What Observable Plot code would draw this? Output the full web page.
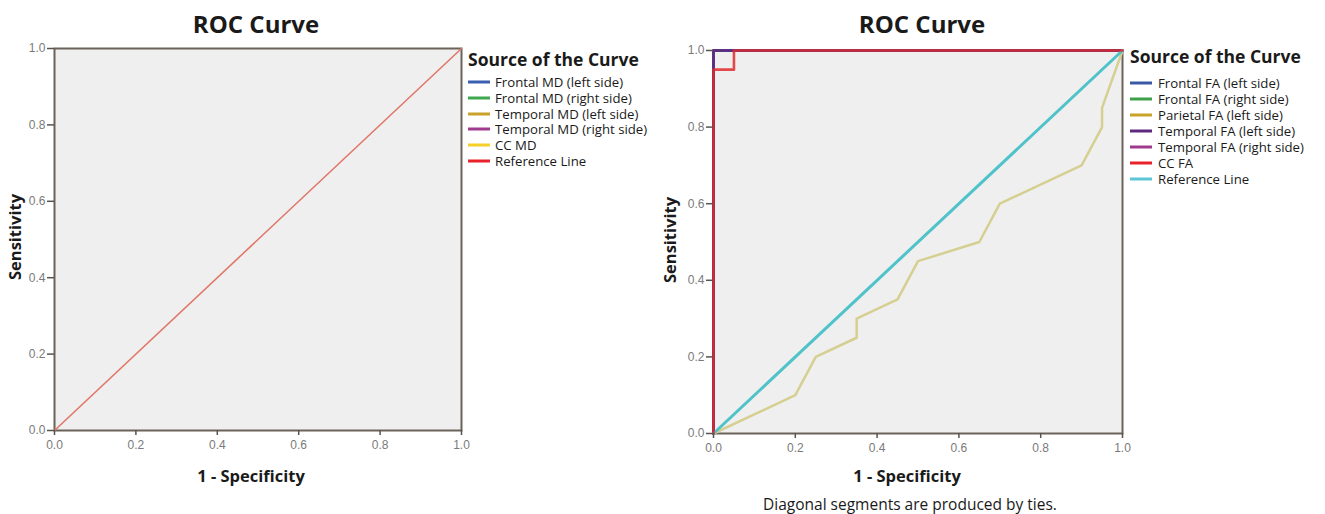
<!DOCTYPE html>
<html><head><meta charset="utf-8">
<script src="https://cdn.jsdelivr.net/npm/d3@7"></script>
<script src="https://cdn.jsdelivr.net/npm/@observablehq/plot@0.6"></script>
<style>
body{margin:0;background:#fff;}
#wrap{position:relative;width:1325px;height:514px;overflow:hidden;font-family:"Open Sans",sans-serif;color:#1a1a1a;}
.abs{position:absolute;white-space:nowrap;line-height:1;}
.title{font-weight:700;font-size:24px;transform:translate(-50%,-50%);}
.xlab{font-weight:700;font-size:16.5px;transform:translate(-50%,-50%);}
.ylab{font-weight:700;font-size:16.5px;transform:translate(-50%,-50%) rotate(-90deg);}
.legtitle{font-weight:700;font-size:17.5px;transform:translateY(-50%);}
.legitem{font-size:13.2px;line-height:13px;transform:translateY(-50%);}
.sw{position:absolute;height:3px;width:22px;transform:translateY(-50%);}
.cap{font-size:15.5px;transform:translate(-50%,-50%);}
</style></head><body><div id="wrap"></div>
<script>
// ---- data ----
const tickValues = [0, 0.2, 0.4, 0.6, 0.8, 1.0];
const tickLabels = ["0.0", "0.2", "0.4", "0.6", "0.8", "1.0"];

// Left chart (MD)
const leftSeries = ["Frontal MD (left side)", "Frontal MD (right side)", "Temporal MD (left side)", "Temporal MD (right side)", "CC MD", "Reference Line"];
const leftColors = ["#3a5fb0", "#3fa850", "#c9a22a", "#a03a8e", "#f6cf2a", "#e8222a"];
const leftRefX = [0, 1];
const leftRefY = [0, 1];

// Right chart (FA)
const rightSeries = ["Frontal FA (left side)", "Frontal FA (right side)", "Parietal FA (left side)", "Temporal FA (left side)", "Temporal FA (right side)", "CC FA", "Reference Line"];
const rightColors = ["#3a5aa8", "#3fa04a", "#c9a22a", "#5e2a80", "#a03a8e", "#e8222a", "#5cc6d6"];
const perfectX = [0, 0, 1];
const perfectY = [0, 1, 1];
const ccFaX = [0, 0, 0.05, 0.05, 1];
const ccFaY = [0, 0.95, 0.95, 1, 1];
const parietalX = [0, 0.2, 0.25, 0.35, 0.35, 0.45, 0.5, 0.65, 0.7, 0.9, 0.95, 0.95, 1];
const parietalY = [0, 0.1, 0.2, 0.25, 0.3, 0.35, 0.45, 0.5, 0.6, 0.7, 0.8, 0.85, 1];
const rightRefX = [0, 1];
const rightRefY = [0, 1];

// ---- helpers ----
const wrap = document.getElementById("wrap");
function pts(xs, ys) { return xs.map((x, i) => ({x, y: ys[i]})); }
function addDiv(cls, text, left, top, extra) {
  const d = document.createElement("div");
  d.className = "abs " + cls;
  d.textContent = text;
  d.style.left = left + "px";
  d.style.top = top + "px";
  if (extra) Object.assign(d.style, extra);
  wrap.appendChild(d);
  return d;
}
function makeChart({width, height, marginLeft, marginRight, marginTop, marginBottom, lines}) {
  const labelOf = d3.scaleOrdinal(tickValues, tickLabels);
  return Plot.plot({
    width, height, marginLeft, marginRight, marginTop, marginBottom,
    style: {fontFamily: "'Liberation Sans', Arial, sans-serif", background: "transparent", overflow: "visible"},
    x: {domain: [0, 1]},
    y: {domain: [0, 1]},
    marks: [
      Plot.frame({fill: "#efefef", stroke: "#6b625a", strokeWidth: 2}),
      ...lines.map(l => Plot.line(pts(l.x, l.y), {x: "x", y: "y", stroke: l.color, strokeWidth: l.w, strokeOpacity: l.o ?? 1})),
      Plot.axisX({ticks: tickValues, tickFormat: d => labelOf(d), tickSize: 5, tickPadding: 5, label: null, stroke: "#5a524c", strokeWidth: 1.5, fill: "#7a7a7a", fontSize: 12}),
      Plot.axisY({ticks: tickValues, tickFormat: d => labelOf(d), tickSize: 7, tickPadding: 2, label: null, stroke: "#5a524c", strokeWidth: 1.5, fill: "#7a7a7a", fontSize: 12})
    ]
  });
}
function place(el, left, top) {
  el.style.position = "absolute";
  el.style.left = left + "px";
  el.style.top = top + "px";
  wrap.appendChild(el);
}

// ---- left chart ----
const left = makeChart({
  width: 471, height: 430, marginLeft: 54, marginRight: 10, marginTop: 12, marginBottom: 36,
  lines: [{x: leftRefX, y: leftRefY, color: "#e0786a", w: 1.6}]
});
place(left, 0, 36);
addDiv("title", "ROC Curve", 256, 24);
addDiv("ylab", "Sensitivity", 15, 237);
addDiv("xlab", "1 - Specificity", 251, 476);
addDiv("legtitle", "Source of the Curve", 468, 60);
leftSeries.forEach((s, i) => {
  const y = 81.7 + i * 15.9;
  addDiv("sw", "", 468, y, {background: leftColors[i]});
  addDiv("legitem", s, 495, y);
});

// ---- right chart ----
const right = makeChart({
  width: 472, height: 430, marginLeft: 53, marginRight: 10, marginTop: 14, marginBottom: 33,
  lines: [
    {x: perfectX, y: perfectY, color: rightColors[1], w: 2.5},
    {x: perfectX, y: perfectY, color: rightColors[4], w: 2.5},
    {x: perfectX, y: perfectY, color: rightColors[0], w: 2.5},
    {x: perfectX, y: perfectY, color: rightColors[3], w: 2.5},
    {x: parietalX, y: parietalY, color: "#d6cf92", w: 2.5},
    {x: rightRefX, y: rightRefY, color: "#4fc3c9", w: 3},
    {x: ccFaX, y: ccFaY, color: "#e02a2a", w: 2.6, o: 0.85}
  ]
});
place(right, 660, 36);
addDiv("title", "ROC Curve", 922, 24);
addDiv("ylab", "Sensitivity", 670, 240);
addDiv("xlab", "1 - Specificity", 907, 476);
addDiv("cap", "Diagonal segments are produced by ties.", 910, 505);
addDiv("legtitle", "Source of the Curve", 1130, 57);
rightSeries.forEach((s, i) => {
  const y = 83.3 + i * 16;
  addDiv("sw", "", 1130, y, {background: rightColors[i]});
  addDiv("legitem", s, 1158, y);
});
</script>
</body></html>
